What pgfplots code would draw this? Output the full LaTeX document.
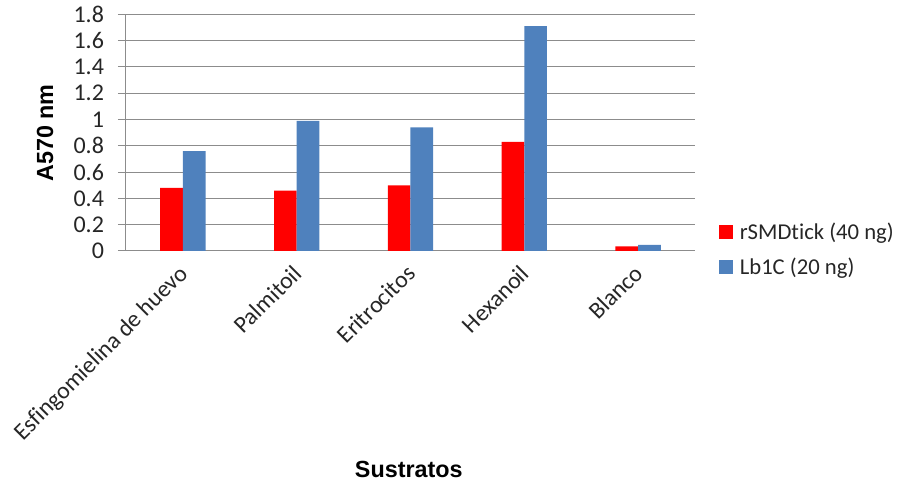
\documentclass[border=0pt]{standalone}
\usepackage{pgfplots}
\pgfplotsset{compat=1.18}
\usepackage{fontspec}
\setmainfont{Carlito}[Ligatures=CommonOff]
\newfontfamily\lsans{Liberation Sans}
\definecolor{rred}{HTML}{FF0000}
\definecolor{lblue}{HTML}{4F81BD}
\definecolor{gridg}{HTML}{8C8C8C}
\begin{document}
\begin{tikzpicture}
\useasboundingbox (-94.5pt,-174.75pt) rectangle (582pt,188.25pt);
\begin{axis}[
  scale only axis,
  width=426.75pt, height=177.5pt,
  at={(0,0)}, anchor=south west,
  xmin=-0.5, xmax=4.5,
  ymin=0, ymax=1.8,
  ytick={0,0.2,0.4,0.6,0.8,1,1.2,1.4,1.6,1.8},
  xtick={0,1,2,3,4},
  xticklabels={Esfingomielina de huevo, Palmitoil, Eritrocitos, Hexanoil, Blanco},
  /pgf/number format/assume math mode=true,
  ymajorgrids,
  grid style={gridg, line width=0.75pt},
  axis x line*=bottom,
  axis y line*=left,
  axis line style={gridg, line width=0.75pt},
  y axis line style={-},
  x axis line style={-},
  major tick length=6pt,
  tick align=outside,
  ytick style={gridg, line width=0.75pt},
  xtick style={draw=none},
  yticklabel style={font=\fontsize{18}{21}\selectfont, anchor=east, xshift=-7pt, text=black!85},
  xticklabel style={font=\fontsize{17.8}{21}\selectfont, xshift=-4pt, yshift=1.5pt, rotate=45, anchor=north east, text=black!85},
  ylabel={A570 nm},
  xlabel={Sustratos},
  every axis y label/.style={at={(axis description cs:-0.1424,0.4985)}, rotate=90, anchor=center, font=\lsans\bfseries\fontsize{17.5}{20}\selectfont},
  every axis x label/.style={at={(axis description cs:0.497,-0.925)}, anchor=center, font=\lsans\bfseries\fontsize{17.5}{20}\selectfont},
  ybar=0pt,
  bar width=17pt,
  legend style={draw=none, fill=none, at={(1.042,0.006)}, anchor=west, inner sep=0pt,
    font=\fontsize{17}{20}\selectfont, row sep=8.5pt, text=black!85,
    /tikz/every odd column/.style={column sep=3pt}},
  legend cell align=left,
  legend image code/.code={\fill[#1] (0pt,-5.25pt) rectangle (10.5pt,5.25pt);},
]
\addplot[fill=rred, draw=none] coordinates {(0,0.48) (1,0.46) (2,0.50) (3,0.83) (4,0.035)};
\addplot[fill=lblue, draw=none] coordinates {(0,0.76) (1,0.99) (2,0.94) (3,1.71) (4,0.046)};
\legend{rSMDtick (40 ng), Lb1C (20 ng)}
\end{axis}
\end{tikzpicture}
\end{document}
